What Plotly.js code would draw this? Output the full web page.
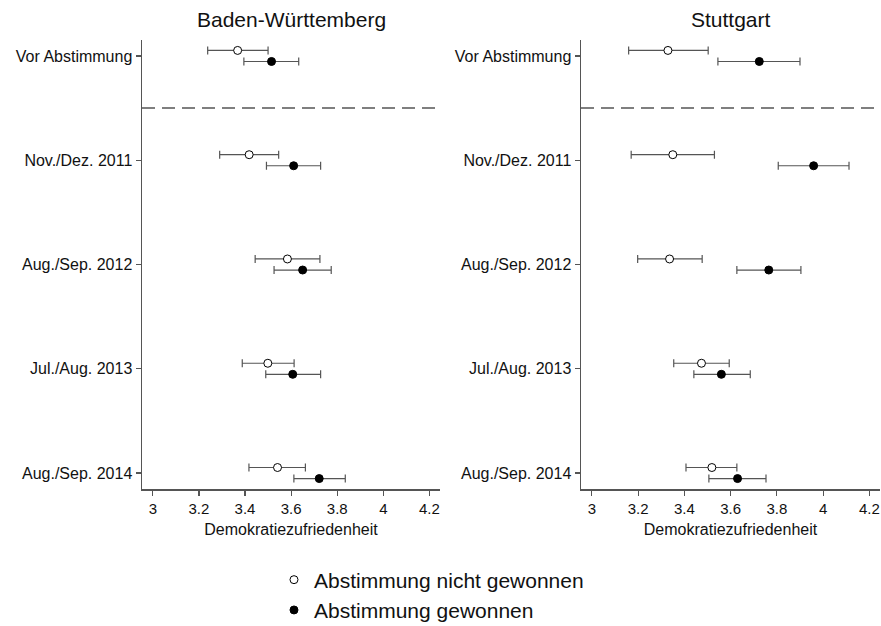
<!DOCTYPE html>
<html>
<head>
<meta charset="utf-8">
<script src="https://cdn.plot.ly/plotly-3.0.1.min.js"></script>
<style>html,body{margin:0;padding:0;background:#fff;}#chart{width:881px;height:626px;}</style>
</head>
<body>
<div id="chart"></div>
<script>
// ---- data ----
const categories = ["Vor Abstimmung", "Nov./Dez. 2011", "Aug./Sep. 2012", "Jul./Aug. 2013", "Aug./Sep. 2014"];
const panels = ["Baden-Württemberg", "Stuttgart"];
const seriesNames = ["Abstimmung nicht gewonnen", "Abstimmung gewonnen"];

// Baden-Württemberg
const bwNotWon    = [3.368, 3.418, 3.584, 3.499, 3.541];
const bwNotWonLo  = [3.238, 3.290, 3.444, 3.388, 3.417];
const bwNotWonHi  = [3.500, 3.546, 3.725, 3.613, 3.662];
const bwWon       = [3.515, 3.611, 3.650, 3.607, 3.722];
const bwWonLo     = [3.395, 3.493, 3.526, 3.490, 3.612];
const bwWonHi     = [3.633, 3.728, 3.774, 3.728, 3.835];

// Stuttgart
const stNotWon    = [3.329, 3.350, 3.336, 3.474, 3.519];
const stNotWonLo  = [3.159, 3.170, 3.198, 3.354, 3.407];
const stNotWonHi  = [3.503, 3.530, 3.477, 3.594, 3.627];
const stWon       = [3.724, 3.959, 3.765, 3.560, 3.630];
const stWonLo     = [3.545, 3.806, 3.627, 3.441, 3.506];
const stWonHi     = [3.900, 4.112, 3.904, 3.685, 3.753];

const xTicks = [3, 3.2, 3.4, 3.6, 3.8, 4, 4.2];
const xTickText = ["3", "3.2", "3.4", "3.6", "3.8", "4", "4.2"];
const xTitle = "Demokratiezufriedenheit";

// ---- build ----
const FONT = "Liberation Sans, Arial, Helvetica, sans-serif";
const idx = categories.map((c, i) => i);
const OFF = 0.053;

function trace(vals, lo, hi, offset, filled, xa, ya, name, showleg, grp) {
  return {
    type: "scatter", mode: "markers",
    x: vals, y: idx.map(i => i + offset),
    xaxis: xa, yaxis: ya, name: name, showlegend: showleg, legendgroup: grp,
    marker: {symbol: "circle", size: 8, color: filled ? "#000" : "#fff", line: {color: "#000", width: 1}},
    error_x: {type: "data", symmetric: false,
      array: vals.map((v, i) => hi[i] - v), arrayminus: vals.map((v, i) => v - lo[i]),
      color: "#555", thickness: 1.2, width: 4}
  };
}

const data = [
  trace(bwNotWon, bwNotWonLo, bwNotWonHi, -OFF, false, "x", "y", seriesNames[0], true, "a"),
  trace(bwWon, bwWonLo, bwWonHi, OFF, true, "x", "y", seriesNames[1], true, "b"),
  trace(stNotWon, stNotWonLo, stNotWonHi, -OFF, false, "x2", "y2", seriesNames[0], false, "a"),
  trace(stWon, stWonLo, stWonHi, OFF, true, "x2", "y2", seriesNames[1], false, "b")
];

const xRange = [2.953, 4.246];
const yRange = [4.153, -0.153];
const yDom = [1 - 489/626, 1 - 40/626];

function xaxis(dom, anchor) {
  return {domain: dom, anchor: anchor, range: xRange, tickvals: xTicks, ticktext: xTickText,
    showgrid: false, zeroline: false, showline: true, linecolor: "#555", linewidth: 1.5,
    ticks: "outside", ticklen: 5, tickcolor: "#555", tickwidth: 1.2, automargin: false,
    tickfont: {family: FONT, size: 15, color: "#111"},
    title: {text: xTitle, font: {family: FONT, size: 16, color: "#111"}, standoff: 8}};
}
function yaxis(anchor) {
  return {domain: yDom, anchor: anchor, range: yRange, tickvals: idx, ticktext: categories,
    showgrid: false, zeroline: false, showline: true, linecolor: "#555", linewidth: 1.5,
    ticks: "outside", ticklen: 5, tickcolor: "#555", tickwidth: 1.2, automargin: false,
    tickfont: {family: FONT, size: 16, color: "#111"}};
}

const layout = {
  width: 881, height: 626,
  margin: {l: 0, r: 0, t: 0, b: 0, autoexpand: false},
  paper_bgcolor: "#fff", plot_bgcolor: "#fff",
  font: {family: FONT, color: "#111"},
  xaxis: xaxis([142/881, 440/881], "y"),
  yaxis: yaxis("x"),
  xaxis2: xaxis([581/881, 880/881], "y2"),
  yaxis2: yaxis("x2"),
  showlegend: true,
  legend: {orientation: "v", x: 0.311, y: 0.0495, xanchor: "left", yanchor: "middle",
    font: {family: FONT, size: 21, color: "#111"}, tracegroupgap: 0, bgcolor: "rgba(0,0,0,0)"},
  annotations: [
    {text: panels[0], xref: "paper", yref: "paper", x: (142+440)/2/881, y: 1 - 20/626, showarrow: false,
      font: {family: FONT, size: 21, color: "#111"}, xanchor: "center", yanchor: "middle"},
    {text: panels[1], xref: "paper", yref: "paper", x: (581+880)/2/881, y: 1 - 20/626, showarrow: false,
      font: {family: FONT, size: 21, color: "#111"}, xanchor: "center", yanchor: "middle"}
  ],
  shapes: [
    {type: "line", xref: "x domain", yref: "y", x0: 0, x1: 1, y0: 0.5, y1: 0.5,
      line: {color: "#555", width: 1.5, dash: "13px,7px"}},
    {type: "line", xref: "x2 domain", yref: "y2", x0: 0, x1: 1, y0: 0.5, y1: 0.5,
      line: {color: "#555", width: 1.5, dash: "13px,7px"}}
  ]
};

Plotly.newPlot("chart", data, layout, {staticPlot: true, displayModeBar: false});
</script>
</body>
</html>
